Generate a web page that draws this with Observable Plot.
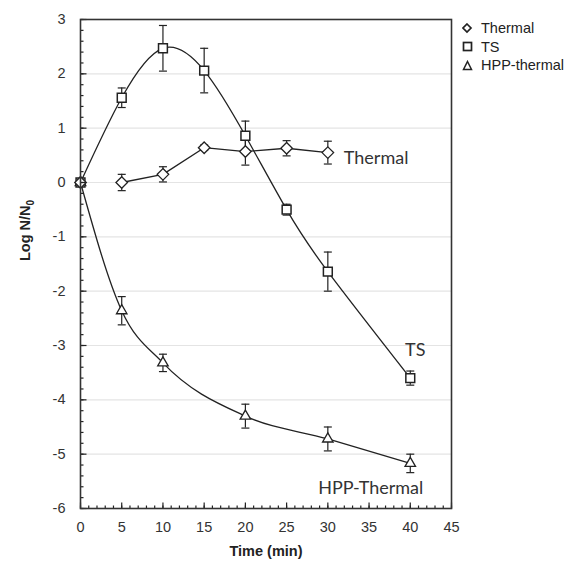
<!DOCTYPE html>
<html><head><meta charset="utf-8">
<script src="https://cdn.jsdelivr.net/npm/d3@7"></script>
<script src="https://cdn.jsdelivr.net/npm/@observablehq/plot@0.6"></script>
<style>
body{margin:0;background:#fff;}
#wrap{position:relative;width:582px;height:564px;}
#legend{position:absolute;left:462px;top:19px;font:14.5px "Liberation Sans",Arial,sans-serif;color:#222;line-height:18.5px;}
#legend .row{display:flex;align-items:center;white-space:nowrap;}
#legend svg{margin-right:8px;}
</style></head><body><div id="wrap"><div id="legend"></div></div>
<script>
// ---- data ----
const thermalTime = [0, 5, 10, 15, 20, 25, 30];
const thermalLog  = [0, 0, 0.15, 0.64, 0.57, 0.63, 0.55];
const thermalErr  = [0, 0.15, 0.14, 0.05, 0.25, 0.14, 0.21];

const tsTime = [0, 5, 10, 15, 20, 25, 30, 40];
const tsLog  = [0, 1.56, 2.47, 2.06, 0.86, -0.5, -1.64, -3.6];
const tsErr  = [0, 0.18, 0.42, 0.41, 0.27, 0.1, 0.36, 0.13];

const hppTime = [0, 5, 10, 20, 30, 40];
const hppLog  = [0, -2.36, -3.32, -4.3, -4.72, -5.17];
const hppErr  = [0, 0.26, 0.16, 0.22, 0.22, 0.17];

const legendNames = ["Thermal", "TS", "HPP-thermal"];
const curveLabels = ["Thermal", "TS", "HPP-Thermal"];
const xTicks = [0, 5, 10, 15, 20, 25, 30, 35, 40, 45];
const yTicks = [-6, -5, -4, -3, -2, -1, 0, 1, 2, 3];
const xTitle = "Time (min)";
const yTitle = "Log N/N0";

// ---- build tables ----
const mk = (ts, vs, es, s) => ts.map((t, i) => ({t, v: vs[i], e: es[i], s}));
const thermal = mk(thermalTime, thermalLog, thermalErr, "Thermal");
const ts = mk(tsTime, tsLog, tsErr, "TS");
const hpp = mk(hppTime, hppLog, hppErr, "HPP");
const all = [...thermal, ...ts, ...hpp];
const withErr = all.filter(d => d.e > 0);
const ends = [];
withErr.forEach(d => { ends.push({t: d.t, v: d.v - d.e}); ends.push({t: d.t, v: d.v + d.e}); });

const xMinor = d3.range(xTicks[0], xTicks[xTicks.length - 1] + 0.001, 1);
const yMinor = d3.range(yTicks[0], yTicks[yTicks.length - 1] + 0.001, 0.2);

const line = (ctx, x1, y1, x2, y2) => { ctx.moveTo(x1, y1); ctx.lineTo(x2, y2); };
const capSym = {draw(ctx) { line(ctx, -4, 0, 4, 0); }};
const yMajSym = {draw(ctx) { line(ctx, 0, 0, 6, 0); }};
const yMinSym = {draw(ctx) { line(ctx, 0, 0, 3, 0); }};
const xMajSym = {draw(ctx) { line(ctx, 0, 0, 0, -6); }};
const xMinSym = {draw(ctx) { line(ctx, 0, 0, 0, -3); }};

const ink = "#222";
const lastOf = a => a[a.length - 1];
const labelFont = "Lato, 'Open Sans', sans-serif";

const chart = Plot.plot({
  width: 582, height: 564,
  marginLeft: 80, marginRight: 131, marginTop: 19, marginBottom: 56,
  style: {fontFamily: "'Liberation Sans', Arial, sans-serif", fontSize: "14.5px", color: "#333", background: "#fff"},
  x: {domain: [xTicks[0], lastOf(xTicks)], ticks: xTicks, tickFormat: d => `${d}`, tickSize: 0, tickPadding: 13, label: null},
  y: {domain: [yTicks[0], lastOf(yTicks)], ticks: yTicks, tickFormat: d => `${d}`, tickSize: 0, tickPadding: 15, label: null},
  marks: [
    Plot.ruleY(yTicks.slice(1, -1), {stroke: "#e4e4e4", strokeWidth: 1.2}),
    // fitted/connecting curves
    Plot.line(thermal.filter(d => d.t > 0), {x: "t", y: "v", stroke: ink, strokeWidth: 1.3}),
    Plot.line(ts, {x: "t", y: "v", curve: "natural", stroke: ink, strokeWidth: 1.3}),
    Plot.line(hpp, {x: "t", y: "v", curve: "monotone-x", stroke: ink, strokeWidth: 1.3}),
    // error bars
    Plot.ruleX(withErr, {x: "t", y1: d => d.v - d.e, y2: d => d.v + d.e, stroke: ink, strokeWidth: 1.2}),
    Plot.dot(ends, {x: "t", y: "v", symbol: capSym, fill: "none", stroke: ink, strokeWidth: 1.2}),
    // markers
    Plot.dot(hpp, {x: "t", y: "v", symbol: "triangle", r: 3.9, fill: "white", stroke: ink, strokeWidth: 1.3}),
    Plot.dot(ts, {x: "t", y: "v", symbol: "square", r: 5, fill: "white", stroke: ink, strokeWidth: 1.5}),
    Plot.dot(thermal, {x: "t", y: "v", symbol: "diamond2", r: 5.2, fill: "white", stroke: ink, strokeWidth: 1.3}),
    // inward ticks
    Plot.dot(yMinor, {x: () => xTicks[0], y: d => d, symbol: yMinSym, fill: "none", stroke: ink, strokeWidth: 1.2}),
    Plot.dot(yTicks, {x: () => xTicks[0], y: d => d, symbol: yMajSym, fill: "none", stroke: ink, strokeWidth: 1.2}),
    Plot.dot(xMinor, {x: d => d, y: () => yTicks[0], symbol: xMinSym, fill: "none", stroke: ink, strokeWidth: 1.2}),
    Plot.dot(xTicks, {x: d => d, y: () => yTicks[0], symbol: xMajSym, fill: "none", stroke: ink, strokeWidth: 1.2}),
    Plot.frame({stroke: "#333", strokeWidth: 1.6}),
    // curve labels
    Plot.text([lastOf(thermal)], {x: "t", y: "v", text: () => curveLabels[0], textAnchor: "start", dx: 16, dy: 6, fontSize: 18, fontFamily: labelFont, fill: "#333"}),
    Plot.text([lastOf(ts)], {x: "t", y: "v", text: () => curveLabels[1], textAnchor: "middle", dx: 5, dy: -28, fontSize: 18, fontFamily: labelFont, fill: "#333"}),
    Plot.text([lastOf(hpp)], {x: "t", y: "v", text: () => curveLabels[2], textAnchor: "end", dx: 13, dy: 25, fontSize: 18, fontFamily: labelFont, fill: "#333"}),
    // axis titles
    Plot.text([xTitle], {frameAnchor: "bottom", dy: 47, fontWeight: "bold", fontSize: 14.5, fill: "#222"}),
    Plot.text([yTitle], {frameAnchor: "left", rotate: -90, dx: -55, dy: -3, fontWeight: "bold", fontSize: 14.5, fill: "#222"})
  ]
});

// subscript 0 in the y title
chart.querySelectorAll("text").forEach(el => {
  if (el.textContent === yTitle) {
    el.textContent = "";
    const ns = "http://www.w3.org/2000/svg";
    const a = document.createElementNS(ns, "tspan"); a.textContent = "Log N/N";
    const b = document.createElementNS(ns, "tspan"); b.textContent = "0";
    b.setAttribute("font-size", "10"); b.setAttribute("dy", "4");
    el.appendChild(a); el.appendChild(b);
  }
});
document.getElementById("wrap").prepend(chart);

// legend
const shapes = [
  '<polygon points="5,1 9,5 5,9 1,5" fill="none" stroke="#222" stroke-width="1.7"/>',
  '<rect x="1.5" y="1.5" width="8" height="8" fill="none" stroke="#222" stroke-width="1.7"/>',
  '<polygon points="5.5,1.5 9.5,9.5 1.5,9.5" fill="none" stroke="#222" stroke-width="1.5"/>'
];
const leg = document.getElementById("legend");
legendNames.forEach((n, i) => {
  const row = document.createElement("div");
  row.className = "row";
  row.innerHTML = `<svg width="11" height="11">${shapes[i]}</svg><span>${n}</span>`;
  leg.appendChild(row);
});
</script>
</body></html>
